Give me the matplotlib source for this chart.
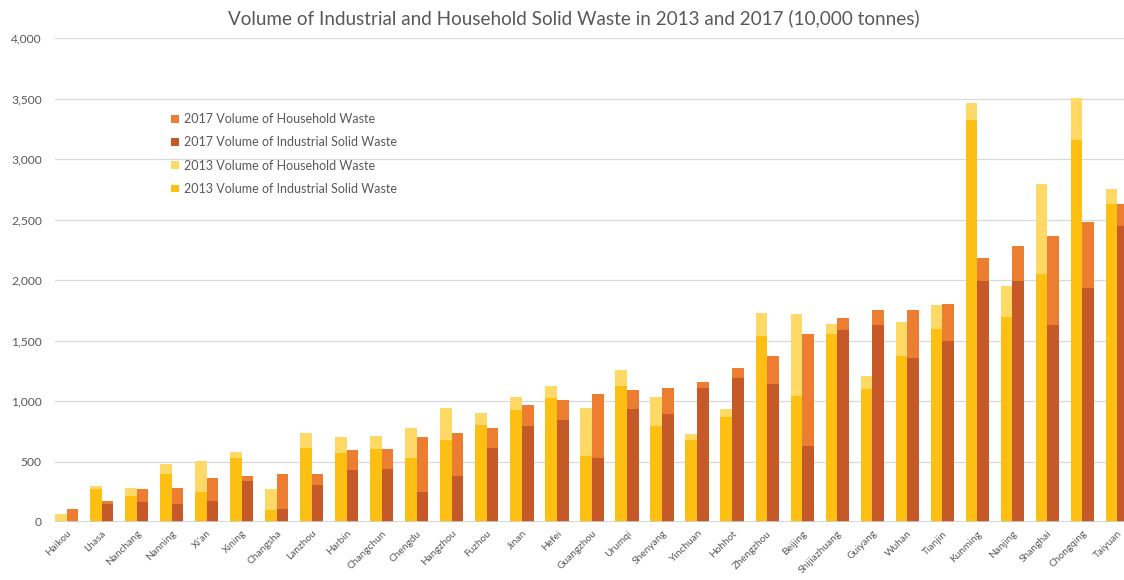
import numpy as np
import matplotlib.pyplot as plt

cities = ["Haikou", "Lhasa", "Nanchang", "Nanning", "Xi'an", "Xining", "Changsha",
          "Lanzhou", "Harbin", "Changchun", "Chengdu", "Hangzhou", "Fuzhou", "Jinan",
          "Hefei", "Guangzhou", "Urumqi", "Shenyang", "Yinchuan", "Hohhot", "Zhengzhou",
          "Beijing", "Shijiazhuang", "Guiyang", "Wuhan", "Tianjin", "Kunming", "Nanjing",
          "Shanghai", "Chongqing", "Taiyuan"]

# 10,000 tonnes
ind_2013 = [0, 273, 218, 394, 251, 526, 96, 614, 570, 603, 526, 680, 802, 923,
            1022, 548, 1121, 791, 680, 868, 1540, 1044, 1551, 1099, 1375, 1595,
            3325, 1694, 2047, 3160, 2631]
hh_2013 = [64, 22, 66, 88, 253, 55, 177, 122, 132, 110, 253, 265, 99, 110,
           99, 397, 132, 242, 45, 66, 187, 672, 88, 110, 275, 198,
           138, 254, 749, 347, 121]
ind_2017 = [0, 152, 163, 152, 173, 339, 107, 306, 427, 438, 251, 383, 614, 791,
            846, 526, 934, 890, 1110, 1187, 1143, 625, 1584, 1628, 1353, 1496,
            1992, 1992, 1628, 1936, 2444]
hh_2017 = [107, 21, 110, 132, 188, 44, 287, 88, 165, 165, 451, 353, 165, 176,
           165, 529, 154, 220, 44, 88, 232, 926, 99, 121, 396, 308,
           187, 286, 738, 541, 187]

c_hh17 = "#ED7D31"
c_ind17 = "#C55A28"
c_hh13 = "#FFD966"
c_ind13 = "#FDBF12"
grey = "#595959"

plt.rcParams["font.family"] = ["Lato", "DejaVu Sans"]

fig = plt.figure(figsize=(11.24, 5.8), dpi=100)
ax = fig.add_axes([55 / 1124, 58 / 580, 1069 / 1124, 484 / 580])

x = np.arange(len(cities))
w = 0.331

b1 = ax.bar(x - w / 2, ind_2013, w, color=c_ind13, label="2013 Volume of Industrial Solid Waste", zorder=3)
b2 = ax.bar(x - w / 2, hh_2013, w, bottom=ind_2013, color=c_hh13, label="2013 Volume of Household Waste", zorder=3)
b3 = ax.bar(x + w / 2, ind_2017, w, color=c_ind17, label="2017 Volume of Industrial Solid Waste", zorder=3)
b4 = ax.bar(x + w / 2, hh_2017, w, bottom=ind_2017, color=c_hh17, label="2017 Volume of Household Waste", zorder=3)

ax.set_xlim(-w, 30.19)
ax.set_ylim(0, 4000)
ax.set_yticks(np.arange(0, 4001, 500))
ax.set_yticklabels([f"{v:,}" for v in range(0, 4001, 500)])
ax.grid(axis="y", color="#d9d9d9", linewidth=0.9, zorder=0)
ax.axhline(0, color="#d0d0d0", linewidth=1.2, zorder=4)

for s in ax.spines.values():
    s.set_visible(False)
ax.tick_params(axis="both", length=0, colors=grey)
ax.tick_params(axis="y", labelsize=8.7, pad=9.5)
ax.set_xticks(x)
ax.set_xticklabels(cities, rotation=45, ha="right", rotation_mode="anchor", fontsize=7.3)
ax.tick_params(axis="x", pad=5)

ax.legend(handles=[b4, b3, b2, b1], loc="upper left", bbox_to_anchor=(0.098, 0.868),
          frameon=False, fontsize=9, labelcolor=grey, handlelength=0.6,
          handleheight=0.6, handletextpad=0.4, labelspacing=0.9)

fig.text(574 / 1124, 1 - 18 / 580, "Volume of Industrial and Household Solid Waste in 2013 and 2017 (10,000 tonnes)",
         ha="center", va="center", fontsize=13.6, color=grey)

fig.savefig("out.png", dpi=100)
